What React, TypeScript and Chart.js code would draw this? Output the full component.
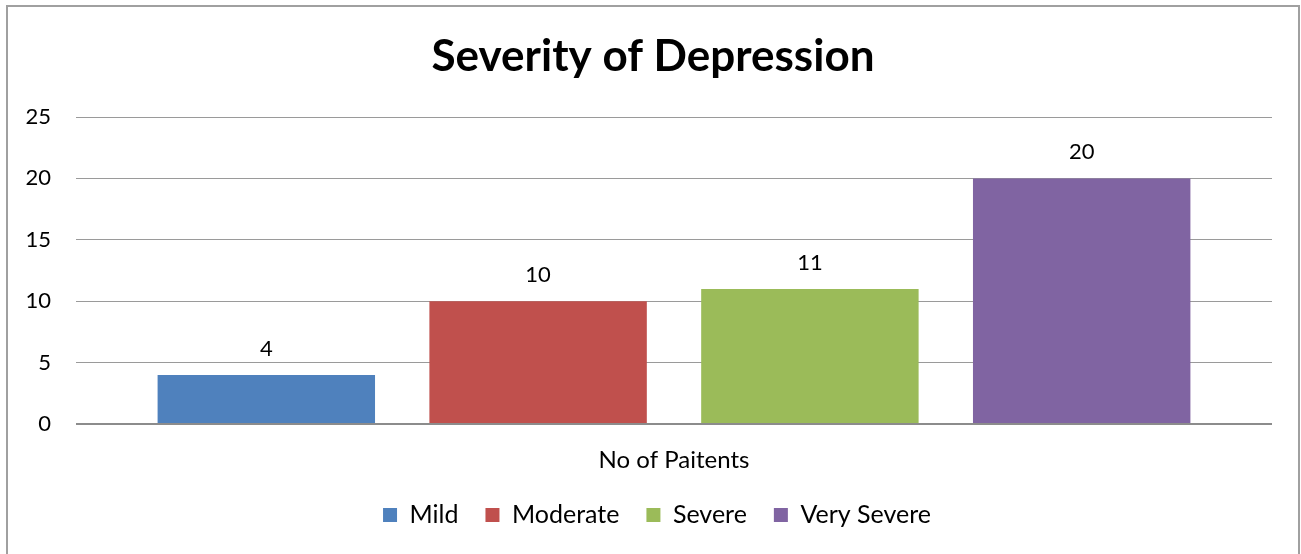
import React, { useEffect, useRef } from "react";
import { Chart, registerables } from "chart.js";

Chart.register(...registerables);

const TITLE = "Severity of Depression";
const CATEGORIES = ["No of Paitents"];
const SERIES_NAMES = ["Mild", "Moderate", "Severe", "Very Severe"];
const SERIES_VALUES = [4, 10, 11, 20];
const SERIES_COLORS = ["#4F81BD", "#C0504D", "#9BBB59", "#8064A2"];
const Y_MIN = 0;
const Y_MAX = 25;
const Y_STEP = 5;

const FONT = "Lato, 'Open Sans', sans-serif";

const valueLabels = {
  id: "valueLabels",
  afterDatasetsDraw(chart: any) {
    const { ctx } = chart;
    ctx.save();
    ctx.font = `22px ${FONT}`;
    ctx.fillStyle = "#000";
    ctx.textAlign = "center";
    ctx.textBaseline = "middle";
    chart.data.datasets.forEach((ds: any, i: number) => {
      const meta = chart.getDatasetMeta(i);
      meta.data.forEach((bar: any, j: number) => {
        ctx.fillText(String(ds.data[j]), bar.x, bar.y - 26);
      });
    });
    ctx.restore();
  },
};

// nudge title and legend horizontally to match the reference centring
const shiftBoxes = {
  id: "shiftBoxes",
  afterLayout(chart: any) {
    if (chart.legend) {
      chart.legend.left += 11;
      chart.legend.right += 11;
    }
    if (chart.titleBlock) {
      chart.titleBlock.left += 7;
      chart.titleBlock.right += 7;
    }
  },
};

export default function App() {
  const ref = useRef<HTMLCanvasElement | null>(null);

  useEffect(() => {
    document.body.style.margin = "0";
    document.body.style.overflow = "hidden";
    const chart = new Chart(ref.current as HTMLCanvasElement, {
      type: "bar",
      data: {
        labels: CATEGORIES,
        datasets: SERIES_NAMES.map((name, i) => ({
          label: name,
          data: [SERIES_VALUES[i]],
          backgroundColor: SERIES_COLORS[i],
          borderWidth: 0,
          barPercentage: 0.8,
          categoryPercentage: 0.909,
        })),
      },
      options: {
        animation: false,
        responsive: false,
        maintainAspectRatio: false,
        layout: { padding: { left: 20, right: 29, top: 0, bottom: 16.5 } },
        plugins: {
          title: {
            display: true,
            text: TITLE,
            color: "#000",
            font: { family: FONT, size: 44, weight: "bold", lineHeight: 1.2 },
            padding: { top: 30.6, bottom: 33.6 },
          },
          legend: {
            position: "bottom",
            labels: {
              color: "#000",
              font: { family: FONT, size: 25 },
              boxWidth: 14,
              boxHeight: 14,
              padding: 27,
            },
          },
          tooltip: { enabled: false },
        },
        scales: {
          x: {
            grid: { display: false, drawTicks: false },
            border: { display: false },
            ticks: {
              color: "#000",
              font: { family: FONT, size: 24, lineHeight: 1.2 },
              padding: 21.6,
            },
            afterFit(scale: any) {
              scale.height = 51.5;
            },
          },
          y: {
            min: Y_MIN,
            max: Y_MAX,
            grid: {
              drawTicks: false,
              color: (c: any) => (c.tick && c.tick.value === 0 ? "#8c8c8c" : "#9a9a9a"),
              lineWidth: (c: any) => (c.tick && c.tick.value === 0 ? 2 : 1),
            },
            border: { display: false },
            ticks: {
              stepSize: Y_STEP,
              color: "#000",
              font: { family: FONT, size: 22 },
              padding: 25,
            },
            afterFit(scale: any) {
              scale.width = 56;
            },
          },
        },
      },
      plugins: [valueLabels, shiftBoxes],
    });
    return () => chart.destroy();
  }, []);

  return (
    <div style={{ position: "relative", width: 1301, height: 554, overflow: "hidden", background: "#fff" }}>
      <canvas ref={ref} width={1301} height={554} style={{ position: "absolute", left: 0, top: 0 }} />
      <div
        style={{
          position: "absolute",
          left: 6,
          top: 5,
          width: 1294,
          height: 600,
          boxSizing: "border-box",
          border: "2px solid #a0a0a0",
          pointerEvents: "none",
        }}
      />
    </div>
  );
}
